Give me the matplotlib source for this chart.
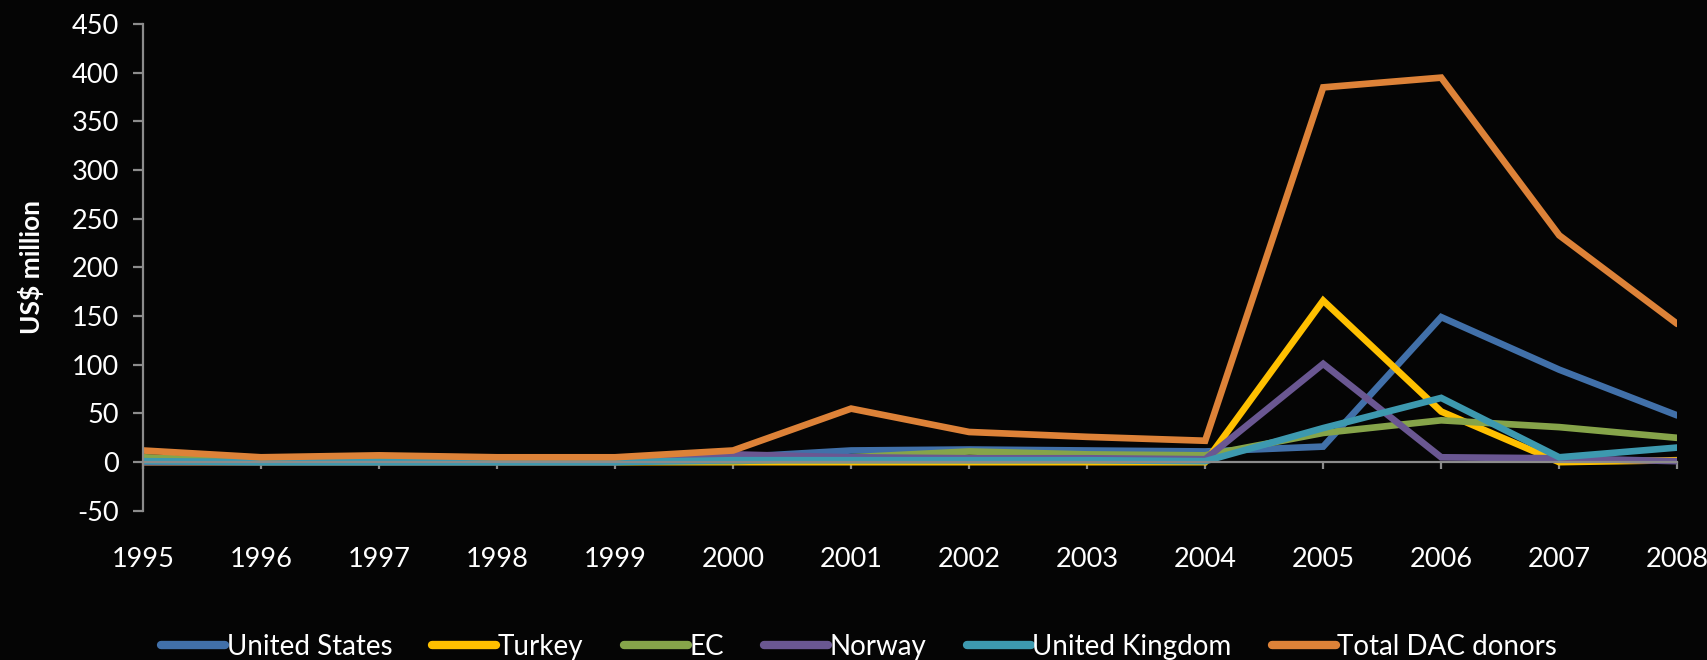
import matplotlib
matplotlib.use("Agg")
import matplotlib.pyplot as plt
from matplotlib.ticker import MultipleLocator

# Humanitarian aid by donor, US$ million
years = [1995, 1996, 1997, 1998, 1999, 2000, 2001, 2002, 2003, 2004, 2005, 2006, 2007, 2008]
united_states = [3, 1, 1, 1, 1, 5, 12, 13, 12, 11, 16, 149, 95, 48]
turkey = [0, 0, 0, 0, 0, 0, 0, 0, 0, 0, 166, 52, 0, 2]
ec = [5, 1, 1, 1, 1, 1, 5, 11, 8, 7, 30, 43, 36, 25]
norway = [0, 0, 0, 0, 0, 8, 5, 4, 4, 3, 101, 5, 4, 1]
united_kingdom = [1, 0, 0, 0, 0, 2, 2, 2, 2, 1, 35, 66, 5, 15]
total_dac = [12, 5, 7, 5, 5, 12, 55, 31, 26, 22, 385, 395, 233, 142]

series_names = ["United States", "Turkey", "EC", "Norway", "United Kingdom", "Total DAC donors"]
series_values = [united_states, turkey, ec, norway, united_kingdom, total_dac]
series_colors = ["#4170A9", "#FFC000", "#86A44A", "#6A5792", "#3D99AF", "#DD8238"]

bg = "#050505"
axis_grey = "#8C8C8C"
plt.rcParams["font.family"] = ["Lato", "DejaVu Sans"]
plt.rcParams["axes.unicode_minus"] = False

fig = plt.figure(figsize=(17.08, 6.6), dpi=100, facecolor=bg)
ax = fig.add_axes([0.0837, 0.226, 0.9965 - 0.0837 - 0.0145, 0.9635 - 0.226])
ax.set_facecolor(bg)

for name, vals, col in zip(series_names, series_values, series_colors):
    ax.plot(years, vals, color=col, lw=4.8, label=name,
            solid_capstyle="round", solid_joinstyle="miter")

ax.set_xlim(years[0], years[-1])
ax.set_ylim(-50, 450)
ax.yaxis.set_major_locator(MultipleLocator(50))
ax.set_xticks(years)
ax.set_xticklabels([str(y) for y in years])

for side in ("top", "right"):
    ax.spines[side].set_visible(False)
ax.spines["left"].set_color(axis_grey)
ax.spines["left"].set_linewidth(1.6)
ax.spines["bottom"].set_color(axis_grey)
ax.spines["bottom"].set_linewidth(1.6)
ax.spines["bottom"].set_position(("data", 0))

ax.tick_params(axis="y", colors=axis_grey, length=7, width=1.6, direction="out",
               labelcolor="white", labelsize=19.5, pad=10)
ax.tick_params(axis="x", colors=axis_grey, length=5, width=1.6, direction="out",
               labelcolor="white", labelsize=19.5, pad=56)

ax.set_ylabel("US$ million", color="white", fontsize=19, fontweight="bold", labelpad=20)

leg = fig.legend(loc="lower center", bbox_to_anchor=(0.503, -0.038), ncol=6,
                 frameon=False, fontsize=20, handlelength=2.3, handletextpad=0.06,
                 columnspacing=1.45, labelcolor="white")
for h in leg.get_lines():
    h.set_linewidth(6)
    h.set_solid_capstyle("round")

fig.savefig("out.png", dpi=100, facecolor=bg)
